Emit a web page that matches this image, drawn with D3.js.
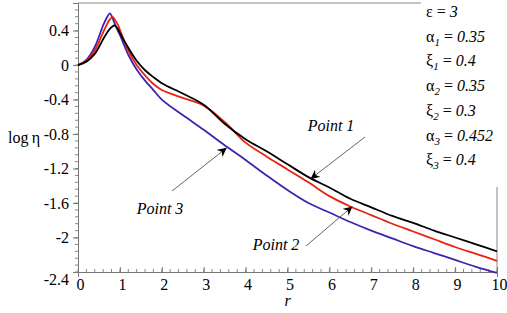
<!DOCTYPE html>
<html>
<head>
<meta charset="utf-8">
<script src="https://cdn.jsdelivr.net/npm/d3@7"></script>
<style>
  body { margin: 0; background: #fff; }
</style>
</head>
<body>
<svg id="graph" width="507" height="313"></svg>
<script>
// datos
var rVals = [0, 0.2, 0.4, 0.6, 0.7, 0.76, 0.83, 0.86, 0.95, 1.0, 1.2, 1.4, 1.6, 1.8, 2.0, 2.5, 3.0, 3.5, 4.0, 4.5, 5.0, 5.5, 6.0, 6.5, 7.0, 7.5, 8.0, 8.5, 9.0, 9.5, 10];
var point1 = [0, 0.04, 0.13, 0.30, 0.38, 0.42, 0.45, 0.46, 0.42, 0.37, 0.20, 0.05, -0.06, -0.14, -0.21, -0.33, -0.46, -0.68, -0.86, -1.00, -1.15, -1.30, -1.42, -1.55, -1.65, -1.75, -1.83, -1.92, -2.00, -2.08, -2.16];
var point2 = [0, 0.05, 0.17, 0.38, 0.48, 0.53, 0.56, 0.54, 0.47, 0.41, 0.17, 0.00, -0.12, -0.22, -0.29, -0.38, -0.47, -0.66, -0.90, -1.06, -1.21, -1.36, -1.52, -1.64, -1.74, -1.84, -1.93, -2.02, -2.11, -2.19, -2.27];
var point3 = [0, 0.06, 0.21, 0.46, 0.56, 0.60, 0.54, 0.50, 0.40, 0.35, 0.12, -0.05, -0.18, -0.29, -0.40, -0.58, -0.75, -0.93, -1.10, -1.28, -1.45, -1.60, -1.71, -1.82, -1.92, -2.01, -2.10, -2.18, -2.26, -2.34, -2.41];
var xTicks = [0, 1, 2, 3, 4, 5, 6, 7, 8, 9, 10];
var yTicks = [0.4, 0, -0.4, -0.8, -1.2, -1.6, -2, -2.4];
var params = [
  ["ε", "", "3"], ["α", "1", "0.35"], ["ξ", "1", "0.4"],
  ["α", "2", "0.35"], ["ξ", "2", "0.3"], ["α", "3", "0.452"], ["ξ", "3", "0.4"]
];

var serif = "'Liberation Serif', 'DejaVu Serif', serif";
var svg = d3.select("#graph");
var margin = { top: 3, right: 10, bottom: 41, left: 78 };
var width = 507 - margin.left - margin.right;
var height = 313 - margin.top - margin.bottom;

var x = d3.scaleLinear().domain([0, 10]).range([margin.left, margin.left + width]);
var y = d3.scaleLinear().domain([-2.4, 0.72]).range([margin.top + height, margin.top]);

// marco superior y derecho
svg.append("line").attr("x1", x(0)).attr("x2", 421).attr("y1", y(0.72)).attr("y2", y(0.72))
  .attr("stroke", "#888").attr("stroke-width", 1);
svg.append("line").attr("x1", x(10)).attr("x2", x(10)).attr("y1", 187).attr("y2", y(-2.4))
  .attr("stroke", "#888").attr("stroke-width", 1);

// ticks menores
var xMinor = d3.range(0, 10.001, 0.2);
var yMinor = d3.range(-2.4, 0.72, 0.08);
svg.append("g").selectAll("line").data(xMinor).enter().append("line")
  .attr("x1", d => x(d)).attr("x2", d => x(d))
  .attr("y1", y(-2.4)).attr("y2", y(-2.4) - 3)
  .attr("stroke", "#888");
svg.append("g").selectAll("line").data(yMinor).enter().append("line")
  .attr("x1", x(0)).attr("x2", x(0) - 3)
  .attr("y1", d => y(d)).attr("y2", d => y(d))
  .attr("stroke", "#888");

// eje x
var gx = svg.append("g")
  .attr("transform", "translate(0," + y(-2.4) + ")")
  .call(d3.axisBottom(x).tickValues(xTicks).tickSize(5).tickFormat(d => String(d)));
gx.select(".domain").attr("stroke", "#777");
gx.selectAll(".tick line").attr("stroke", "#777").attr("y2", -5);
gx.selectAll("text").style("font-family", serif).style("font-size", "16px")
  .attr("fill", "#000").attr("y", 7).attr("dx", 2);

// eje y
var gy = svg.append("g")
  .attr("transform", "translate(" + x(0) + ",0)")
  .call(d3.axisLeft(y).tickValues(yTicks).tickSize(5).tickFormat(d => String(d)));
gy.select(".domain").attr("stroke", "#777");
gy.selectAll(".tick line").attr("stroke", "#777");
gy.selectAll("text").style("font-family", serif).style("font-size", "16px")
  .attr("fill", "#000").attr("x", -9);
gy.selectAll(".tick").filter(d => d === -2.4).select("text").attr("dy", "0.75em");

// etiquetas de los ejes
svg.append("text").attr("x", x(5)).attr("y", 306).attr("text-anchor", "middle")
  .style("font-family", serif).style("font-style", "italic").style("font-size", "16px").text("r");
svg.append("text").attr("x", 8).attr("y", 143)
  .style("font-family", serif).style("font-size", "16px").text("log\u2009η");

// curvas
var series = [
  { name: "Point 1", vals: point1, color: "#000000" },
  { name: "Point 2", vals: point2, color: "#e8230f" },
  { name: "Point 3", vals: point3, color: "#4422b0" }
];
var line = d3.line().x(d => x(d[0])).y(d => y(d[1])).curve(d3.curveCatmullRom.alpha(0.5));
svg.append("g").selectAll("path").data(series.slice().reverse()).enter().append("path")
  .attr("d", s => line(rVals.map((r, i) => [r, s.vals[i]])))
  .attr("fill", "none")
  .attr("stroke", s => s.color)
  .attr("stroke-width", 1.8);

// flechas
var defs = svg.append("defs");
defs.append("marker").attr("id", "arrow").attr("viewBox", "0 0 10 10")
  .attr("refX", 10).attr("refY", 5).attr("markerWidth", 9).attr("markerHeight", 9)
  .attr("markerUnits", "userSpaceOnUse").attr("orient", "auto")
  .append("path").attr("d", "M0,0 L10,5 L0,10 L3,5 z").attr("fill", "#000");

var labels = [
  { text: "Point 1", tx: 331, ty: 131, from: [365, 137], to: [5.55, -1.32] },
  { text: "Point 2", tx: 276, ty: 250, from: [306, 246], to: [6.55, -1.64] },
  { text: "Point 3", tx: 160, ty: 214, from: [172, 191], to: [3.55, -0.96] }
];
svg.append("g").selectAll("line").data(labels).enter().append("line")
  .attr("x1", d => d.from[0]).attr("y1", d => d.from[1])
  .attr("x2", d => x(d.to[0])).attr("y2", d => y(d.to[1]))
  .attr("stroke", "#555").attr("stroke-width", 0.9)
  .attr("marker-end", "url(#arrow)");
svg.append("g").selectAll("text").data(labels).enter().append("text")
  .attr("x", d => d.tx).attr("y", d => d.ty).attr("text-anchor", "middle")
  .style("font-family", serif).style("font-style", "italic").style("font-size", "16px")
  .text(d => d.text);

// parametros
params.forEach((p, i) => {
  var t = svg.append("text").attr("x", 426).attr("y", 17 + i * 24.7)
    .style("font-family", serif).style("font-size", "16px");
  t.append("tspan").text(p[0]);
  if (p[1]) t.append("tspan").style("font-style", "italic").style("font-size", "11px").attr("dy", 4).text(p[1]);
  t.append("tspan").attr("dy", p[1] ? -4 : 0).text(" = ");
  t.append("tspan").style("font-style", "italic").text(p[2]);
});
</script>
</body>
</html>
